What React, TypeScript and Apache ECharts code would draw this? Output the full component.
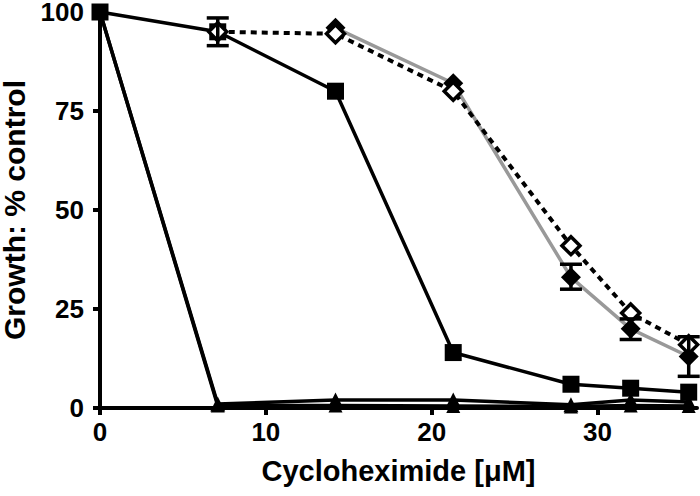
import React, { useEffect, useRef } from "react";
import * as echarts from "echarts";

const conc = [0, 7.1, 14.2, 21.3, 28.4, 32, 35.5];
const triangleA = [100, 1, 2, 2, 0.8, 2, 1.5];
const triangleB = [100, 0.6, 0.6, 0.5, 0.4, 0.6, 0.5];
const squares = [100, 95, 80, 14, 6, 5, 4];
const openDiamonds = [null, 95, 94.5, 80, 41, 24, 16];
const filledDiamonds = [null, null, 96, 82, 33, 20, 13];
const errorBars: [number, number, number][] = [
  [7.1, 91.5, 98.5],
  [28.4, 30, 36.3],
  [32, 17.3, 22.5],
  [35.5, 8, 18],
];
const xTicks = [0, 10, 20, 30];

const pairs = (ys: (number | null)[]) =>
  conc.map((x, i) => [x, ys[i]]).filter((p) => p[1] !== null);

export default function App() {
  const ref = useRef<HTMLDivElement>(null);
  useEffect(() => {
    const chart = echarts.init(ref.current!, null, { renderer: "svg" });
    const font = "Liberation Sans, Arial, sans-serif";
    chart.setOption({
      animation: false,
      backgroundColor: "#fff",
      grid: { left: 100, top: 12, right: 3, bottom: 88, outerBoundsMode: "none" },
      xAxis: {
        type: "value",
        min: 0,
        max: 36,
        interval: 10,
        name: "Cycloheximide [\u03bcM]",
        nameLocation: "middle",
        nameGap: 48,
        nameTextStyle: { fontFamily: font, fontWeight: "bold", fontSize: 29, color: "#000" },
        axisLine: { lineStyle: { color: "#000", width: 4 } },
        axisTick: { show: true, length: 7, lineStyle: { width: 4, color: "#000" }, customValues: xTicks },
        axisLabel: { customValues: xTicks, fontFamily: font, fontWeight: "bold", fontSize: 26, color: "#000", margin: 11 },
        splitLine: { show: false },
      },
      yAxis: {
        type: "value",
        min: 0,
        max: 100,
        interval: 25,
        name: "Growth: % control",
        nameLocation: "middle",
        nameGap: 70,
        nameTextStyle: { fontFamily: font, fontWeight: "bold", fontSize: 30, color: "#000" },
        axisLine: { show: true, lineStyle: { color: "#000", width: 4 } },
        axisTick: { show: true, length: 7, lineStyle: { width: 4, color: "#000" } },
        axisLabel: { fontFamily: font, fontWeight: "bold", fontSize: 26, color: "#000", margin: 16 },
        splitLine: { show: false },
      },
      series: [
        {
          type: "line",
          data: pairs(triangleB),
          symbol: "triangle",
          symbolSize: 14,
          clip: false,
          lineStyle: { color: "#000", width: 3.5 },
          itemStyle: { color: "#000" },
          z: 2,
        },
        {
          type: "line",
          data: pairs(triangleA),
          symbol: "triangle",
          symbolSize: 15,
          clip: false,
          lineStyle: { color: "#000", width: 3.5 },
          itemStyle: { color: "#000" },
          z: 2,
        },
        {
          type: "line",
          data: pairs(squares),
          symbol: "rect",
          symbolSize: 17,
          clip: false,
          lineStyle: { color: "#000", width: 3.5 },
          itemStyle: { color: "#000" },
          z: 3,
        },
        {
          type: "line",
          data: pairs(filledDiamonds),
          symbol: "diamond",
          symbolSize: 20,
          clip: false,
          lineStyle: { color: "#999", width: 3.5 },
          itemStyle: { color: "#000" },
          z: 4,
        },
        {
          type: "line",
          data: pairs(openDiamonds),
          symbol: "diamond",
          symbolSize: 18,
          clip: false,
          lineStyle: { color: "#000", width: 4, type: [6, 5] },
          itemStyle: { color: "#fff", borderColor: "#000", borderWidth: 3.5 },
          z: 5,
        },
        {
          type: "custom",
          data: errorBars,
          clip: false,
          z: 6,
          renderItem: (params: any, api: any) => {
            const x = api.value(0);
            const lo = api.coord([x, api.value(1)]);
            const hi = api.coord([x, api.value(2)]);
            const w = 11;
            const style = { stroke: "#000", lineWidth: 3.5 };
            return {
              type: "group",
              children: [
                { type: "line", shape: { x1: lo[0], y1: lo[1], x2: hi[0], y2: hi[1] }, style },
                { type: "line", shape: { x1: lo[0] - w, y1: lo[1], x2: lo[0] + w, y2: lo[1] }, style },
                { type: "line", shape: { x1: hi[0] - w, y1: hi[1], x2: hi[0] + w, y2: hi[1] }, style },
              ],
            };
          },
        },
      ],
    });
    return () => chart.dispose();
  }, []);
  return (
    <div
      ref={ref}
      style={{ position: "fixed", left: 0, top: 0, width: 700, height: 496 }}
    />
  );
}
